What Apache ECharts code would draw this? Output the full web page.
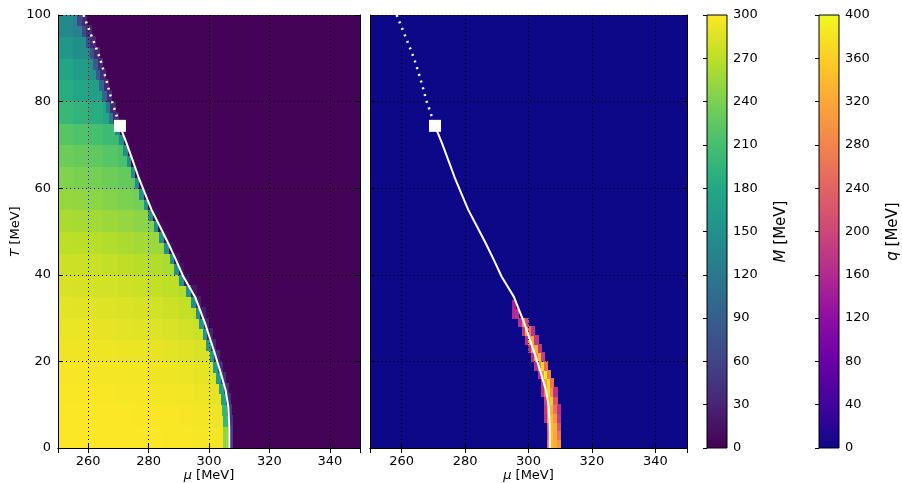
<!DOCTYPE html>
<html>
<head>
<meta charset="utf-8">
<script src="https://cdn.jsdelivr.net/npm/echarts@6/dist/echarts.min.js"></script>
<style>html,body{margin:0;padding:0;background:#fff}#c{width:902px;height:483px}</style>
</head>
<body>
<div id="c"></div>
<script>
// ---------------- data ----------------
// M [MeV] block table: rows start at T (5 MeV tall), columns start at mu (5 MeV wide)
const muCols = [250,255,260,265,270,275,280,285,290,295,300,305];
const tRowsM = [0,5,10,15,20,25,30,35,40,45,50,55,60,65,70,75,80,85,90,95];
const mTable = [
  [299,299,299,299,299,299,299,298,298,297,296,292],
  [299,299,299,299,299,298,298,298,297,296,294,290],
  [298,298,298,298,297,297,296,296,295,293,290,285],
  [297,297,296,296,296,295,294,293,292,289,285,278],
  [294,294,293,293,292,291,290,288,286,283,278,270],
  [291,291,290,289,288,287,285,283,280,276,270,262],
  [288,287,286,285,284,282,280,277,273,268,260,250],
  [283,282,281,280,278,276,273,270,265,258,250,240],
  [277,276,275,273,271,268,265,261,255,248,240,230],
  [270,269,267,265,262,259,255,250,244,236,228,220],
  [262,260,258,255,252,248,243,237,230,222,215,205],
  [253,251,248,245,241,236,230,222,214,205,195,185],
  [243,240,237,233,228,222,214,205,195,185,175,165],
  [232,229,225,220,214,206,196,185,175,165,155,145],
  [220,216,211,205,197,187,175,162,150,140,130,120],
  [200,194,186,175,160,140,120,100,80,60,40,20],
  [185,178,168,150,120,80,40,10,5,3,3,3],
  [175,166,152,135,100,50,10,3,3,3,3,3],
  [158,148,130,100,50,10,3,3,3,3,3,3],
  [140,128,110,80,30,5,3,3,3,3,3,3]
];
// M value of the thin strip just inside / just outside the broken-phase edge (per 5 MeV row)
const fringeIn  = [250,200,170,165,160,155,150,150,150,150,150,150,145,145,140,120,100,85,75,65];
const fringeOut = [55,50,45,40,35,30,25,20,15,10,8,6,5,5,5,35,35,35,35,35];
// broken-phase edge mu for 2.5 MeV tall bands starting at edgeT
const edgeT  = [0,2.5,5,7.5,10,12.5,15,17.5,20,22.5,25,27.5,30,32.5,35,37.5,40,42.5,45,47.5,
                50,52.5,55,57.5,60,62.5,65,67.5,70,72.5,75,77.5,80,82.5,85,87.5,90,92.5,95,97.5];
const edgeMu = [306.4,306.4,306.3,306.1,305.7,305.1,304.0,303.0,301.9,300.8,299.6,298.4,297.2,295.8,294.2,291.8,290.2,288.6,286.9,285.2,
                283.4,281.6,280.0,278.5,277.1,275.8,274.5,273.3,271.9,270.6,268.5,267.5,266.3,265.3,264.1,263.4,262.2,260.8,259.5,258.1];
const mBackground = 2;

// q [MeV] cells: 1 MeV wide, 2 MeV tall; each row starts at qT[i], first cell at qMu0[i]
const qT   = [0,2,4,6,8,10,12,14,16,18,20,22,24,26,28,30,32];
const qMu0 = [306,306,306,305,305,305,304,304,303,302,301,300,299,298,297,295,295];
const qVals = [
  [250,340,330,300],
  [220,350,320,260],
  [240,340,330,220],
  [170,300,340,300,180],
  [180,320,330,260,170],
  [200,330,360,220],
  [170,280,370,300,170],
  [180,320,370,260],
  [170,300,390,280],
  [170,280,370,260],
  [170,300,340,190],
  [170,290,330,180],
  [170,300,320,180],
  [180,310,260,170],
  [170,300,200],
  [160,170],
  [150]
];
const qBackground = 0;

// phase boundary
const solidLine = [[270.5,74.4],[272.7,70.4],[274.7,66.5],[276.6,62.7],[278.8,58.8],[281.0,55.0],[283.8,51.1],
  [286.5,47.3],[289.1,43.4],[291.5,39.6],[295.4,34.9],[298.7,28.8],[301.8,22.1],[303.6,18.0],[305.5,13.4],
  [306.4,9.5],[306.7,5.0],[306.7,0]];
const dottedLine = [[258.4,100],[261.2,95],[263.9,90],[266.0,85],[267.9,80],[269.3,77],[270.5,74.4]];
const critPoint = [[270.5,74.4]];

const muRange = [250,350], tRange = [0,100];
const mRange = [0,300], qRange = [0,400];
const mTicks = 30, qTicks = 40;

const viridis = ['#440154','#482475','#414487','#355f8d','#2a788e','#21918c','#22a884','#44bf70','#7ad151','#bddf26','#fde725'];
const plasma  = ['#0d0887','#41049d','#6a00a8','#8f0da4','#b12a90','#cc4778','#e16462','#f2844b','#fca636','#fcce25','#f0f921'];

// ---------------- build cells ----------------
const FR = 1.5;  // fringe strip width (MeV)
const mCells = [[muRange[0], muRange[1], tRange[0], tRange[1], mBackground]];
for (let b = 0; b < edgeT.length; b++) {
  const t0 = edgeT[b], t1 = (b + 1 < edgeT.length) ? edgeT[b+1] : tRange[1];
  const r = tRowsM.findIndex((t, i) => t0 >= t && (i + 1 >= tRowsM.length || t0 < tRowsM[i+1]));
  const e = edgeMu[b];
  for (let c = 0; c < muCols.length; c++) {
    const a = muCols[c], z = Math.min(c + 1 < muCols.length ? muCols[c+1] : muRange[1], e - FR);
    if (z > a) mCells.push([a, z, t0, t1, mTable[r][c]]);
  }
  mCells.push([e - FR, e, t0, t1, fringeIn[r]]);
  mCells.push([e, e + FR, t0, t1, fringeOut[r]]);
}
const qCells = [[muRange[0], muRange[1], tRange[0], tRange[1], qBackground]];
for (let i = 0; i < qT.length; i++) {
  const t1 = (i + 1 < qT.length) ? qT[i+1] : qT[i] + 2;
  qVals[i].forEach((v, k) => qCells.push([qMu0[i] + k, qMu0[i] + k + 1, qT[i], t1, v]));
}

// ---------------- chart ----------------
const FONT = 'DejaVu Sans';
const chart = echarts.init(document.getElementById('c'), null, {renderer: 'canvas'});

function renderCell(params, api) {
  const p0 = api.coord([api.value(0), api.value(3)]);
  const p1 = api.coord([api.value(1), api.value(2)]);
  const x = Math.floor(p0[0]), y = Math.floor(p0[1]);
  const w = Math.ceil(p1[0]) - x, h = Math.ceil(p1[1]) - y;
  const cs = params.coordSys;
  const shape = echarts.graphic.clipRectByRect({x: x, y: y, width: w, height: h},
    {x: cs.x, y: cs.y, width: cs.width, height: cs.height});
  if (!shape) return null;
  return {type: 'rect', shape: shape, style: {fill: api.visual('color')}};
}
function colorbarRender(stops) {
  return function (params, api) {
    const p0 = api.coord([api.value(0), api.value(3)]);
    const p1 = api.coord([api.value(1), api.value(2)]);
    const grad = new echarts.graphic.LinearGradient(0, 1, 0, 0,
      stops.map((c, i) => ({offset: i / (stops.length - 1), color: c})));
    return {type: 'rect', shape: {x: p0[0], y: p0[1], width: p1[0] - p0[0], height: p1[1] - p0[1]},
      style: {fill: grad, stroke: '#000', lineWidth: 1}};
  };
}

const axLine = {show: true, lineStyle: {color: '#000', width: 1}};
const axTick = {show: true, inside: true, length: 5, lineStyle: {color: '#000', width: 1}};
const axLabel = {color: '#000', fontFamily: FONT, fontSize: 13, margin: 7};
const grid = {show: true, lineStyle: {color: '#000', width: 1, type: [1, 3]}};
const nameStyle = (size) => ({color: '#000', fontFamily: FONT, fontSize: size,
  rich: {i: {fontStyle: 'italic', fontFamily: FONT, fontSize: size, color: '#000'}}});

function xMain(gi) {
  return {type: 'value', gridIndex: gi, min: muRange[0], max: muRange[1], splitNumber: 5, z: 10,
    axisLine: axLine, axisTick: axTick, splitLine: grid,
    axisLabel: Object.assign({showMinLabel: false, showMaxLabel: false}, axLabel),
    name: '{i|μ} [MeV]', nameLocation: 'middle', nameGap: 21, nameMoveOverlap: false,
    nameTextStyle: nameStyle(13)};
}
function xTop(gi) {
  return {type: 'value', gridIndex: gi, position: 'top', min: muRange[0], max: muRange[1], splitNumber: 5, z: 10,
    axisLine: axLine, axisTick: axTick, splitLine: {show: false}, axisLabel: {show: false}};
}
function yMain(gi, labels) {
  const o = {type: 'value', gridIndex: gi, min: tRange[0], max: tRange[1], interval: 20, z: 10,
    axisLine: axLine, axisTick: axTick, splitLine: grid,
    axisLabel: Object.assign({show: labels}, axLabel)};
  if (labels) Object.assign(o, {name: '{i|T} [MeV]', nameLocation: 'middle', nameGap: 36, nameRotate: 90,
    nameMoveOverlap: false, nameTextStyle: nameStyle(13)});
  return o;
}
function yRight(gi) {
  return {type: 'value', gridIndex: gi, position: 'right', min: tRange[0], max: tRange[1], interval: 20, z: 10,
    axisLine: axLine, axisTick: axTick, splitLine: {show: false}, axisLabel: {show: false}};
}
function yBar(gi, rng, step, nm) {
  return {type: 'value', gridIndex: gi, position: 'right', min: rng[0], max: rng[1], interval: step, z: 10,
    axisLine: {show: false}, axisTick: {show: true, inside: true, length: 4, lineStyle: {color: '#000'}},
    splitLine: {show: false}, axisLabel: Object.assign({}, axLabel, {margin: 6}),
    name: nm, nameLocation: 'middle', nameGap: 47, nameRotate: 90, nameTextStyle: nameStyle(15)};
}

const gridBase = {outerBoundsMode: 'none', containLabel: false};
const option = {
  animation: false,
  backgroundColor: '#fff',
  grid: [
    Object.assign({left: 58, top: 15, width: 302, height: 433}, gridBase),
    Object.assign({left: 370, top: 15, width: 317, height: 433}, gridBase),
    Object.assign({left: 707, top: 15, width: 20, height: 433}, gridBase),
    Object.assign({left: 819, top: 15, width: 20, height: 433}, gridBase)
  ],
  xAxis: [
    xMain(0), xMain(1), xTop(0), xTop(1),
    {type: 'value', gridIndex: 2, min: 0, max: 1, show: false},
    {type: 'value', gridIndex: 3, min: 0, max: 1, show: false}
  ],
  yAxis: [
    yMain(0, true), yMain(1, false), yRight(0), yRight(1),
    yBar(2, mRange, mTicks, '{i|M} [MeV]'),
    yBar(3, qRange, qTicks, '{i|q} [MeV]')
  ],
  visualMap: [
    {show: false, seriesIndex: 0, dimension: 4, min: mRange[0], max: mRange[1], inRange: {color: viridis}},
    {show: false, seriesIndex: 1, dimension: 4, min: qRange[0], max: qRange[1], inRange: {color: plasma}}
  ],
  series: [
    {type: 'custom', xAxisIndex: 0, yAxisIndex: 0, z: 1, data: mCells, renderItem: renderCell,
      encode: {x: [0, 1], y: [2, 3]}, silent: true},
    {type: 'custom', xAxisIndex: 1, yAxisIndex: 1, z: 1, data: qCells, renderItem: renderCell,
      encode: {x: [0, 1], y: [2, 3]}, silent: true},
    {type: 'custom', xAxisIndex: 4, yAxisIndex: 4, z: 1, data: [[0, 1, mRange[0], mRange[1]]],
      renderItem: colorbarRender(viridis), encode: {x: [0, 1], y: [2, 3]}, silent: true},
    {type: 'custom', xAxisIndex: 5, yAxisIndex: 5, z: 1, data: [[0, 1, qRange[0], qRange[1]]],
      renderItem: colorbarRender(plasma), encode: {x: [0, 1], y: [2, 3]}, silent: true}
  ]
};
[0, 1].forEach(function (g) {
  option.series.push(
    {type: 'line', xAxisIndex: g, yAxisIndex: g, z: 20, data: solidLine, showSymbol: false, symbol: 'none',
      lineStyle: {color: '#fff', width: 2}, silent: true},
    {type: 'line', xAxisIndex: g, yAxisIndex: g, z: 20, data: dottedLine, showSymbol: false, symbol: 'none',
      lineStyle: {color: '#fff', width: 2.5, type: [2, 5]}, silent: true},
    {type: 'scatter', xAxisIndex: g, yAxisIndex: g, z: 21, data: critPoint, symbol: 'rect', symbolSize: 12,
      itemStyle: {color: '#fff', opacity: 1}, silent: true}
  );
});
chart.setOption(option);
</script>
</body>
</html>
